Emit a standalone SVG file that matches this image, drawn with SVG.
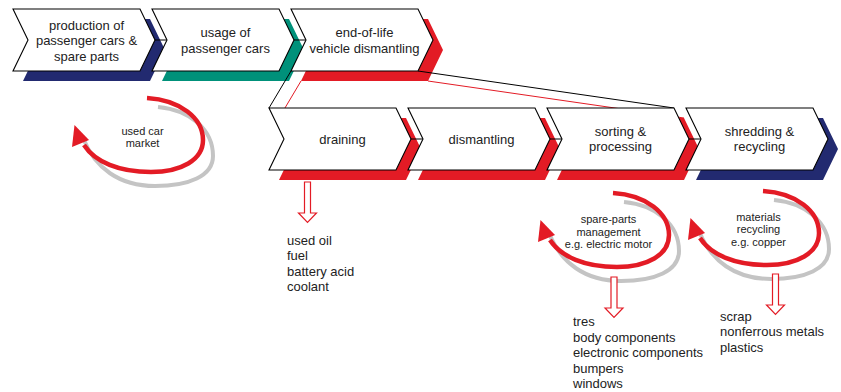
<svg xmlns="http://www.w3.org/2000/svg" xmlns:xlink="http://www.w3.org/1999/xlink" width="841" height="392" viewBox="0 0 841 392">
  <style>
    .box { fill: #ffffff; stroke: #000000; stroke-width: 1.1; stroke-linejoin: miter; }
    .sh-blue { fill: #222a70; }
    .sh-green { fill: #00917a; }
    .sh-red { fill: #e31b25; }
    .lbl { font-family: "Liberation Sans", Arial, sans-serif; font-size: 13px; fill: #222222; text-anchor: middle; }
    .list { font-family: "Liberation Sans", Arial, sans-serif; font-size: 13px; fill: #222222; }
    .loop-lbl { font-family: "Liberation Sans", Arial, sans-serif; font-size: 11px; fill: #222222; text-anchor: middle; }
    .conn { stroke: #000000; stroke-width: 1; fill: none; }
    .conn-red { stroke: #e31b25; stroke-width: 1; fill: none; }
    .loop-red { stroke: #e31b25; stroke-width: 4.5; fill: none; }
    .loop-grey { stroke: #c4c4c4; stroke-width: 4; fill: none; }
    .head { fill: #e31b25; }
    .out { fill: #ffffff; stroke: #e31b25; stroke-width: 1.2; }
  </style>
  <defs>
    <!-- process step: flat box with a pointed right end and notched left end -->
    <path id="chev" d="M0,0 H127 L142,31 L127,62 H0 L15,31 Z"/>
    <!-- circular flow arrow (origin = start of the red stroke) -->
    <g id="loop">
      <path class="loop-grey" d="M11,9 C44,12 66,32 66,58 C66,78 42,88 8,88 C-28,88 -52,70 -64,40"/>
      <path class="loop-red" d="M0,0 C33,2 56,20 56,42 C56,62 34,74 4,74 C-28,74 -52,64 -63,47"/>
      <polygon class="head" points="-72.5,27 -75,49 -58,42"/>
    </g>
    <!-- hollow output arrow (origin = top centre of the shaft) -->
    <path id="down" d="M-3,0 H3 V31 H9 L0,40.5 L-9,31 H-3 Z"/>
  </defs>

  <!-- drop shadows of the process steps -->
  <g id="shadows">
    <use xlink:href="#chev" class="sh-blue" x="23" y="19"/>
    <use xlink:href="#chev" class="sh-green" x="162" y="19"/>
    <use xlink:href="#chev" class="sh-red" x="301" y="19"/>
    <use xlink:href="#chev" class="sh-red" x="279" y="118"/>
    <use xlink:href="#chev" class="sh-red" x="418" y="118"/>
    <use xlink:href="#chev" class="sh-red" x="557" y="118"/>
    <use xlink:href="#chev" class="sh-blue" x="696" y="118"/>
  </g>

  <g id="connectors">
    <line class="conn" x1="155" y1="40" x2="167" y2="40"/>
    <line class="conn" x1="294" y1="40" x2="306" y2="40"/>
    <line class="conn" x1="411" y1="139" x2="423" y2="139"/>
    <line class="conn" x1="550" y1="139" x2="562" y2="139"/>
    <line class="conn" x1="689" y1="139" x2="701" y2="139"/>
    <!-- zoom-in lines from end-of-life step to its sub-steps -->
    <line class="conn" x1="291" y1="71" x2="269" y2="108"/>
    <line class="conn-red" x1="301" y1="81" x2="279" y2="118"/>
    <line class="conn" x1="418" y1="71" x2="674" y2="108"/>
    <line class="conn-red" x1="428" y1="81" x2="684" y2="118"/>
  </g>

  <g id="production">
    <use xlink:href="#chev" class="box" x="13" y="9"/>
    <text class="lbl" x="86.5" y="29.5">production of</text>
    <text class="lbl" x="86.5" y="45">passenger cars &amp;</text>
    <text class="lbl" x="86.5" y="60.5">spare parts</text>
  </g>
  <g id="usage">
    <use xlink:href="#chev" class="box" x="152" y="9"/>
    <text class="lbl" x="225.5" y="37">usage of</text>
    <text class="lbl" x="225.5" y="52.5">passenger cars</text>
  </g>
  <g id="end-of-life">
    <use xlink:href="#chev" class="box" x="291" y="9"/>
    <text class="lbl" x="364.5" y="37">end-of-life</text>
    <text class="lbl" x="364.5" y="52.5">vehicle dismantling</text>
  </g>
  <g id="draining">
    <use xlink:href="#chev" class="box" x="269" y="108"/>
    <text class="lbl" x="342.5" y="144">draining</text>
  </g>
  <g id="dismantling">
    <use xlink:href="#chev" class="box" x="408" y="108"/>
    <text class="lbl" x="481.5" y="144">dismantling</text>
  </g>
  <g id="sorting">
    <use xlink:href="#chev" class="box" x="547" y="108"/>
    <text class="lbl" x="620.5" y="135.5">sorting &amp;</text>
    <text class="lbl" x="620.5" y="151">processing</text>
  </g>
  <g id="shredding">
    <use xlink:href="#chev" class="box" x="686" y="108"/>
    <text class="lbl" x="759.5" y="135.5">shredding &amp;</text>
    <text class="lbl" x="759.5" y="151">recycling</text>
  </g>

  <g id="used-car-market">
    <use xlink:href="#loop" x="147" y="98"/>
    <text class="loop-lbl" x="142.5" y="134.5">used car</text>
    <text class="loop-lbl" x="142.5" y="147">market</text>
  </g>
  <g id="spare-parts-management">
    <use xlink:href="#loop" x="613" y="193"/>
    <text class="loop-lbl" x="608.5" y="223">spare-parts</text>
    <text class="loop-lbl" x="608.5" y="235.5">management</text>
    <text class="loop-lbl" x="608.5" y="248">e.g. electric motor</text>
  </g>
  <g id="materials-recycling">
    <use xlink:href="#loop" x="763" y="191"/>
    <text class="loop-lbl" x="758.5" y="220.5">materials</text>
    <text class="loop-lbl" x="758.5" y="233">recycling</text>
    <text class="loop-lbl" x="758.5" y="245.5">e.g. copper</text>
  </g>

  <g id="draining-output">
    <use xlink:href="#down" class="out" x="307.5" y="182"/>
    <text class="list" x="287" y="244.5">used oil</text>
    <text class="list" x="287" y="260">fuel</text>
    <text class="list" x="287" y="275.5">battery acid</text>
    <text class="list" x="287" y="291">coolant</text>
  </g>
  <g id="sorting-output">
    <use xlink:href="#down" class="out" x="614" y="277"/>
    <text class="list" x="573" y="326">tres</text>
    <text class="list" x="573" y="341.5">body components</text>
    <text class="list" x="573" y="357">electronic components</text>
    <text class="list" x="573" y="372.5">bumpers</text>
    <text class="list" x="573" y="388">windows</text>
  </g>
  <g id="shredding-output">
    <use xlink:href="#down" class="out" x="775.5" y="274"/>
    <text class="list" x="720" y="320.5">scrap</text>
    <text class="list" x="720" y="336">nonferrous metals</text>
    <text class="list" x="720" y="351.5">plastics</text>
  </g>
</svg>
